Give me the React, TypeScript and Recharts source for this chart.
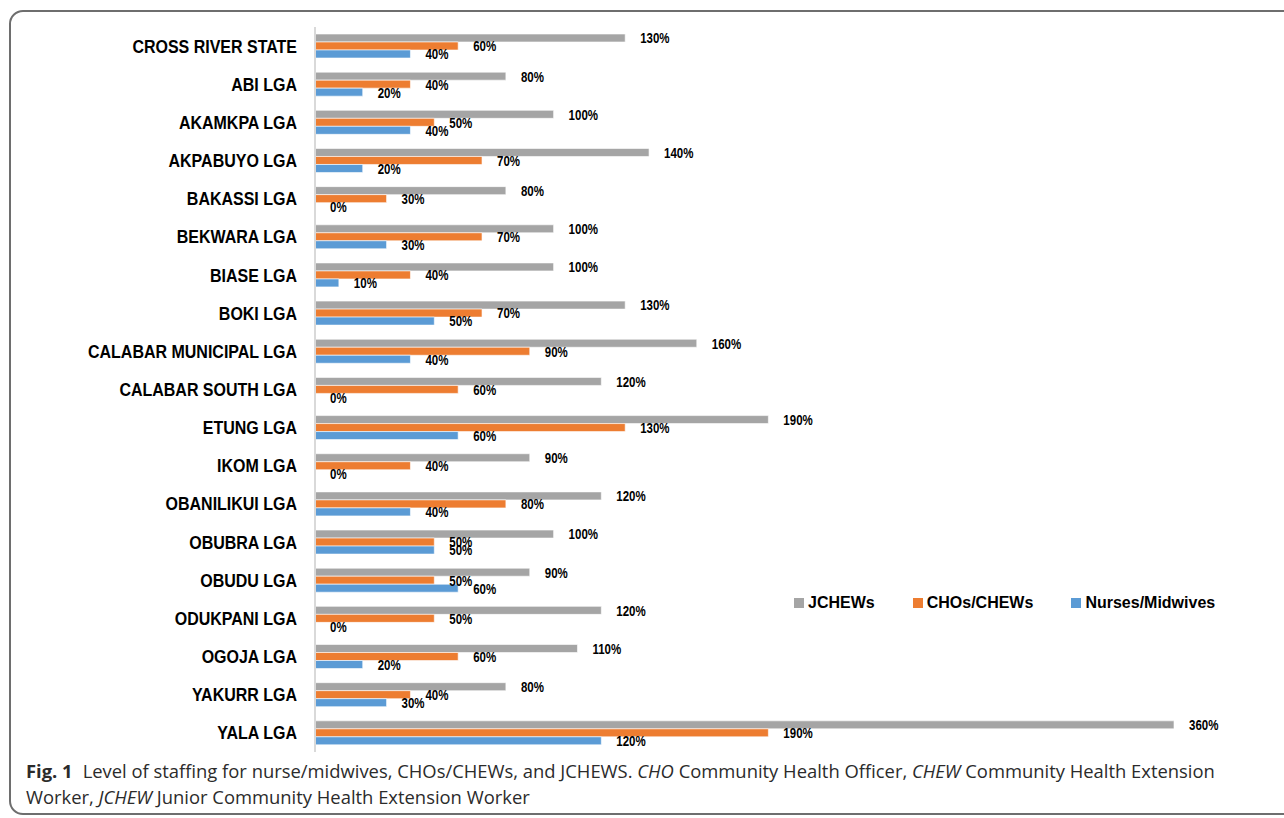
import { BarChart, Bar, XAxis, YAxis, Legend, LabelList } from 'recharts';

const categories = [
  'CROSS RIVER STATE',
  'ABI LGA',
  'AKAMKPA LGA',
  'AKPABUYO LGA',
  'BAKASSI LGA',
  'BEKWARA LGA',
  'BIASE LGA',
  'BOKI LGA',
  'CALABAR MUNICIPAL LGA',
  'CALABAR SOUTH LGA',
  'ETUNG LGA',
  'IKOM LGA',
  'OBANILIKUI LGA',
  'OBUBRA LGA',
  'OBUDU LGA',
  'ODUKPANI LGA',
  'OGOJA LGA',
  'YAKURR LGA',
  'YALA LGA',
];

// staffing level in percent
const jchews = [130, 80, 100, 140, 80, 100, 100, 130, 160, 120, 190, 90, 120, 100, 90, 120, 110, 80, 360];
const chos = [60, 40, 50, 70, 30, 70, 40, 70, 90, 60, 130, 40, 80, 50, 50, 50, 60, 40, 190];
const nurses = [40, 20, 40, 20, 0, 30, 10, 50, 40, 0, 60, 0, 40, 50, 60, 0, 20, 30, 120];

const seriesOrder = ['JCHEWs', 'CHOs/CHEWs', 'Nurses/Midwives'];

const rows = categories.map((name, i) => ({
  name,
  jchews: jchews[i],
  chos: chos[i],
  nurses: nurses[i],
}));

const renderTick = (props: any) => {
  const { x, y, payload } = props;
  return (
    <text
      transform={`translate(${x - 18},${y}) scale(1,1.2)`}
      textAnchor="end"
      dominantBaseline="central"
      fontFamily="'Liberation Sans', Arial, sans-serif"
      fontWeight="bold"
      fontSize={16}
      fill="#000"
    >
      {payload.value}
    </text>
  );
};

const renderValue = (props: any) => {
  const { x, y, width, height, value } = props;
  const tx = Number(x) + Math.max(0, Number(width)) + 15;
  const ty = Number(y) + Number(height) / 2 + 1;
  return (
    <text
      transform={`translate(${tx},${ty}) scale(1,1.2)`}
      textAnchor="start"
      dominantBaseline="central"
      fontFamily="'Liberation Sans', Arial, sans-serif"
      fontWeight="bold"
      fontSize={11.5}
      fill="#000"
    >
      {`${value}%`}
    </text>
  );
};

const renderLegend = (props: any) => {
  const payload = [...(props.payload || [])].sort(
    (a: any, b: any) => seriesOrder.indexOf(a.value) - seriesOrder.indexOf(b.value)
  );
  return (
    <div style={{ display: 'flex', alignItems: 'center' }}>
      {payload.map((entry: any, i: number) => (
        <div key={entry.value} style={{ display: 'flex', alignItems: 'center', marginLeft: i === 0 ? 0 : 38 }}>
          <span style={{ display: 'inline-block', width: 10, height: 10, background: entry.color, marginRight: 4 }} />
          <span
            style={{
              fontFamily: "'Liberation Sans', Arial, sans-serif",
              fontWeight: 'bold',
              fontSize: 16,
              color: '#000',
              lineHeight: '18px',
              whiteSpace: 'nowrap',
            }}
          >
            {entry.value}
          </span>
        </div>
      ))}
    </div>
  );
};

export default function App() {
  return (
    <div
      style={{
        position: 'absolute',
        left: 0,
        top: 0,
        width: 1284,
        height: 818,
        overflow: 'hidden',
        background: '#fff',
      }}
    >
      <div
        style={{
          position: 'absolute',
          left: 9,
          top: 10,
          width: 1320,
          height: 805,
          border: '2px solid #6e6e6e',
          borderRadius: 14,
          boxSizing: 'border-box',
        }}
      />
      <div style={{ position: 'absolute', left: 0, top: 0 }}>
        <BarChart
          layout="vertical"
          width={1284}
          height={760}
          data={rows}
          margin={{ top: 27, right: 110, bottom: 8, left: 0 }}
          barSize={8}
          barGap={0}
        >
          <XAxis type="number" domain={[0, 360]} hide />
          <YAxis
            type="category"
            dataKey="name"
            width={315}
            axisLine={{ stroke: '#D9D9D9', strokeWidth: 2 }}
            tickLine={false}
            tickSize={0}
            tickMargin={0}
            interval={0}
            tick={renderTick}
          />
          <Legend
            layout="horizontal"
            verticalAlign="middle"
            content={renderLegend}
            wrapperStyle={{ position: 'absolute', left: 794, top: 594, width: 'auto', height: 'auto' }}
          />
          <Bar dataKey="jchews" name="JCHEWs" fill="#A5A5A5" stroke="#fff" strokeWidth={0.6} minPointSize={0.01} isAnimationActive={false}>
            <LabelList dataKey="jchews" content={renderValue} />
          </Bar>
          <Bar dataKey="chos" name="CHOs/CHEWs" fill="#ED7D31" stroke="#fff" strokeWidth={0.6} minPointSize={0.01} isAnimationActive={false}>
            <LabelList dataKey="chos" content={renderValue} />
          </Bar>
          <Bar dataKey="nurses" name="Nurses/Midwives" fill="#5B9BD5" stroke="#fff" strokeWidth={0.6} minPointSize={0.01} isAnimationActive={false}>
            <LabelList dataKey="nurses" content={renderValue} />
          </Bar>
        </BarChart>
      </div>
      <div
        style={{
          position: 'absolute',
          left: 26,
          top: 758,
          fontFamily: "'Open Sans', 'Noto Sans', sans-serif",
          fontSize: 18.4,
          lineHeight: '26px',
          color: '#2b2b2b',
          whiteSpace: 'nowrap',
        }}
      >
        <div>
          <b style={{ marginRight: 10 }}>Fig. 1</b>Level of staffing for nurse/midwives, CHOs/CHEWs, and JCHEWS. <i>CHO</i> Community
          Health Officer, <i>CHEW</i> Community Health Extension
        </div>
        <div>
          Worker, <i>JCHEW</i> Junior Community Health Extension Worker
        </div>
      </div>
    </div>
  );
}
